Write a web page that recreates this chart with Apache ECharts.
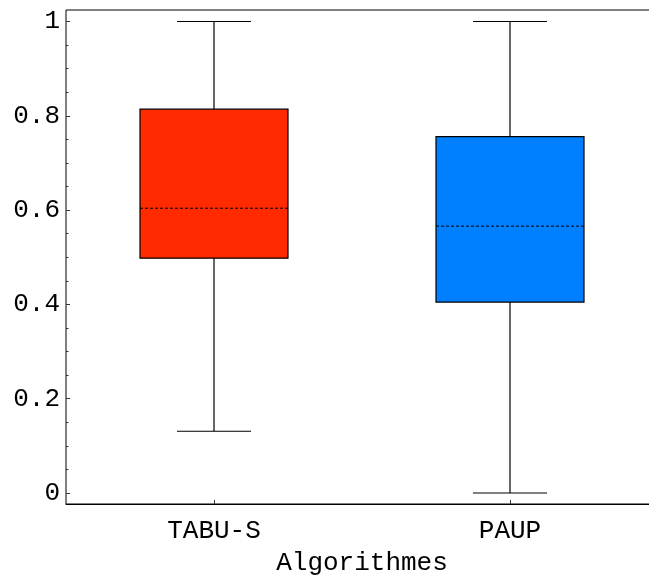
<!DOCTYPE html>
<html>
<head>
<meta charset="utf-8">
<script src="https://cdn.jsdelivr.net/npm/echarts@6/dist/echarts.min.js"></script>
<style>
  html, body { margin: 0; padding: 0; background: #fff; }
  #main { width: 649px; height: 576px; }
</style>
</head>
<body>
<div id="main"></div>
<script>
// donnees des boites
var categories = ['TABU-S', 'PAUP'];
var mins = [0.131, 0];
var q1s = [0.498, 0.405];
var medians = [0.604, 0.566];
var q3s = [0.814, 0.756];
var maxs = [1, 1];
var boxColors = ['#ff2a00', '#007fff'];

var font = 'Liberation Mono, Courier New, monospace';

var data = [];
for (var i = 0; i < categories.length; i++) {
  data.push([i, mins[i], q1s[i], medians[i], q3s[i], maxs[i]]);
}

var myChart = echarts.init(document.getElementById('main'));

function renderBox(params, api) {
  var idx = api.value(0);
  var band = api.size([1, 0])[0];
  var halfBox = band * 0.25;
  var halfCap = band * 0.125;
  var pMin = api.coord([idx, api.value(1)]);
  var pQ1 = api.coord([idx, api.value(2)]);
  var pMed = api.coord([idx, api.value(3)]);
  var pQ3 = api.coord([idx, api.value(4)]);
  var pMax = api.coord([idx, api.value(5)]);
  var cx = pMin[0];
  var lineStyle = { stroke: '#000', lineWidth: 1.2, fill: null };
  return {
    type: 'group',
    children: [
      { type: 'line', shape: { x1: cx, y1: pMin[1], x2: cx, y2: pMax[1] }, style: lineStyle },
      { type: 'line', shape: { x1: cx - halfCap, y1: pMin[1], x2: cx + halfCap, y2: pMin[1] }, style: lineStyle },
      { type: 'line', shape: { x1: cx - halfCap, y1: pMax[1], x2: cx + halfCap, y2: pMax[1] }, style: lineStyle },
      {
        type: 'rect',
        shape: { x: cx - halfBox, y: pQ3[1], width: halfBox * 2, height: pQ1[1] - pQ3[1] },
        style: { fill: boxColors[idx], stroke: '#000', lineWidth: 1.2 }
      },
      {
        type: 'line',
        shape: { x1: cx - halfBox, y1: pMed[1], x2: cx + halfBox, y2: pMed[1] },
        style: { stroke: '#000', lineWidth: 1, lineDash: [3, 2], fill: null }
      }
    ]
  };
}

var option = {
  animation: false,
  grid: [
    // cadre (le bord droit sort de la fenetre)
    { left: 66, width: 592, top: 10, bottom: 72, show: true, borderColor: '#000', borderWidth: 1,
      containLabel: false, outerBoundsMode: 'none' },
    // zone des donnees
    { left: 66, width: 592, top: 21.5, bottom: 83, containLabel: false, outerBoundsMode: 'none' }
  ],
  xAxis: [
    {
      type: 'category',
      gridIndex: 0,
      data: categories,
      axisLine: { show: true, lineStyle: { color: '#000' } },
      axisTick: { show: true, inside: true, length: 4, alignWithLabel: true, lineStyle: { color: '#333' } },
      axisLabel: { fontFamily: font, fontSize: 26, color: '#000', margin: 14 },
      name: 'Algorithmes',
      nameLocation: 'middle',
      nameGap: 46,
      nameTextStyle: { fontFamily: font, fontSize: 26, color: '#000' },
      splitLine: { show: false }
    },
    {
      type: 'category',
      gridIndex: 1,
      data: categories,
      show: false
    }
  ],
  yAxis: [
    {
      type: 'value',
      gridIndex: 0,
      min: 0,
      max: 1,
      show: false
    },
    {
      type: 'value',
      gridIndex: 1,
      min: 0,
      max: 1,
      interval: 0.2,
      axisLine: { show: false },
      axisTick: { show: true, inside: true, length: 4, lineStyle: { color: '#333' } },
      minorTick: { show: true, splitNumber: 4, length: 2.5, lineStyle: { color: '#333' } },
      axisLabel: { fontFamily: font, fontSize: 26, color: '#000', margin: 6 },
      splitLine: { show: false }
    }
  ],
  series: [{
    type: 'custom',
    xAxisIndex: 1,
    yAxisIndex: 1,
    renderItem: renderBox,
    encode: { x: 0, y: [1, 2, 3, 4, 5] },
    data: data
  }]
};

myChart.setOption(option);
</script>
</body>
</html>
